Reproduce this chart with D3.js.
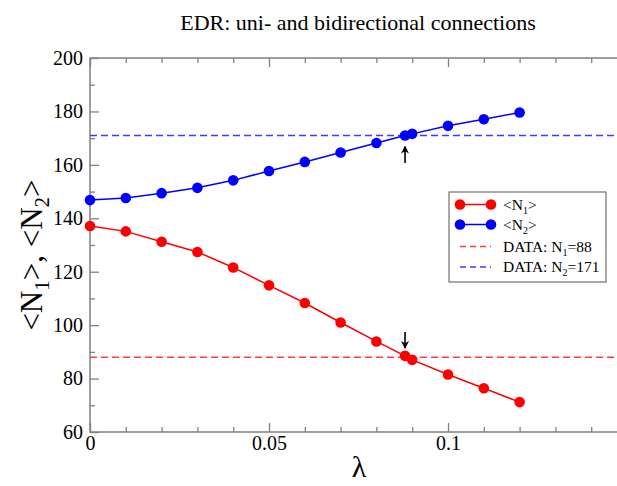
<!DOCTYPE html>
<html><head><meta charset="utf-8">
<script src="https://cdn.jsdelivr.net/npm/d3@7"></script>
<style>
body{margin:0;background:#fff;}
svg{display:block;font-family:"Liberation Serif","Times New Roman",serif;}
</style></head>
<body>
<svg id="c" width="617" height="486"></svg>
<script>
const lambda = [0,0.01,0.02,0.03,0.04,0.05,0.06,0.07,0.08,0.088,0.09,0.1,0.11,0.12];
const n1 = [137.1,135.1,131.2,127.4,121.6,114.9,108.3,101.0,93.9,88.5,87.0,81.5,76.4,71.2];
const n2 = [146.8,147.6,149.4,151.4,154.2,157.7,161.1,164.6,168.2,171.0,171.6,174.6,177.1,179.6];
const dataN1 = 88, dataN2 = 171;
const arrowLambda = 0.088;
const arrowN2 = [160.7, 166.9];
const arrowN1 = [97.4, 91.4];
const xMajor = [0, 0.05, 0.1];
const xMinor = [0.01,0.02,0.03,0.04,0.06,0.07,0.08,0.09,0.11,0.12,0.13,0.14];
const xLabels = ["0","0.05","0.1"];
const yMajor = [60,80,100,120,140,160,180,200];
const yMinor = [70,90,110,130,150,170,190];

const svg = d3.select("#c");
const L = 90, T = 58, B = 432;
const x = d3.scaleLinear().domain([0,0.16]).range([L, L+0.16*3580]);
const y = d3.scaleLinear().domain([60,200]).range([B,T]);
const R = x(0.16);
const axCol = "#808080";

svg.append("defs").append("marker").attr("id","ah").attr("viewBox","0 0 10 10")
  .attr("refX",9).attr("refY",5).attr("markerWidth",5).attr("markerHeight",5).attr("orient","auto")
  .append("path").attr("d","M0,0L10,5L0,10L3,5Z").attr("fill","#000");

// frame
svg.append("rect").attr("x",L).attr("y",T).attr("width",R-L).attr("height",B-T)
  .attr("fill","none").attr("stroke",axCol).attr("stroke-width",1.5);

function styleAx(g){
  g.select(".domain").remove();
  g.selectAll(".tick line").attr("stroke",axCol).attr("stroke-width",1.3);
  g.selectAll(".tick text").attr("fill","#000").style("font-family","Liberation Serif, serif").style("font-size","20px");
}
// bottom
svg.append("g").attr("transform",`translate(0,${B})`)
  .call(d3.axisBottom(x).tickValues(xMajor).tickSize(-9).tickPadding(4).tickFormat((d,i)=>xLabels[i])).call(styleAx);
svg.append("g").attr("transform",`translate(0,${B})`)
  .call(d3.axisBottom(x).tickValues(xMinor).tickSize(-5).tickFormat("")).call(styleAx);
// top
svg.append("g").attr("transform",`translate(0,${T})`)
  .call(d3.axisTop(x).tickValues(xMajor).tickSize(-9).tickFormat("")).call(styleAx);
svg.append("g").attr("transform",`translate(0,${T})`)
  .call(d3.axisTop(x).tickValues(xMinor).tickSize(-5).tickFormat("")).call(styleAx);
// left
svg.append("g").attr("transform",`translate(${L},0)`)
  .call(d3.axisLeft(y).tickValues(yMajor).tickSize(-9).tickPadding(7).tickFormat(d3.format("d"))).call(styleAx);
svg.append("g").attr("transform",`translate(${L},0)`)
  .call(d3.axisLeft(y).tickValues(yMinor).tickSize(-5).tickFormat("")).call(styleAx);

// dashed reference lines
svg.append("line").attr("x1",x(0)).attr("x2",R).attr("y1",y(dataN1)).attr("y2",y(dataN1))
  .attr("stroke","#ff3b3b").attr("stroke-width",1.6).attr("stroke-dasharray","7,4");
svg.append("line").attr("x1",x(0)).attr("x2",R).attr("y1",y(dataN2)).attr("y2",y(dataN2))
  .attr("stroke","#3b3bff").attr("stroke-width",1.6).attr("stroke-dasharray","7,4");

const line = d3.line();
function series(vals,col){
  const pts = lambda.map((l,i)=>[x(l),y(vals[i])]);
  svg.append("path").attr("d",line(pts)).attr("fill","none").attr("stroke",col).attr("stroke-width",1.5);
  svg.append("g").selectAll("circle").data(pts).join("circle")
    .attr("cx",d=>d[0]).attr("cy",d=>d[1]).attr("r",5.3).attr("fill",col);
}
series(n1,"#ff0000");
series(n2,"#0000ff");

// arrows
svg.append("line").attr("x1",x(arrowLambda)).attr("x2",x(arrowLambda))
  .attr("y1",y(arrowN2[0])).attr("y2",y(arrowN2[1])).attr("stroke","#000").attr("stroke-width",1.6).attr("marker-end","url(#ah)");
svg.append("line").attr("x1",x(arrowLambda)).attr("x2",x(arrowLambda))
  .attr("y1",y(arrowN1[0])).attr("y2",y(arrowN1[1])).attr("stroke","#000").attr("stroke-width",1.6).attr("marker-end","url(#ah)");

// title
svg.append("text").attr("x",358).attr("y",30).attr("text-anchor","middle")
  .style("font-size","22px").text("EDR: uni- and bidirectional connections");

// axis labels
svg.append("text").attr("x",359).attr("y",477).attr("text-anchor","middle")
  .style("font-size","30px").text("λ");
const yl = svg.append("text").attr("transform","translate(42,255) rotate(-90)").attr("text-anchor","middle")
  .style("font-size","31px");
yl.append("tspan").text("<N");
yl.append("tspan").attr("dy",7).style("font-size","21px").text("1");
yl.append("tspan").attr("dy",-7).text(">, <N");
yl.append("tspan").attr("dy",7).style("font-size","21px").text("2");
yl.append("tspan").attr("dy",-7).text(">");

// legend
const lg = svg.append("g");
lg.append("rect").attr("x",449).attr("y",192).attr("width",157).attr("height",90)
  .attr("fill","#fff").attr("stroke","#555").attr("stroke-width",1);
const items = [
  {col:"#ff0000",dash:false,t:["<N","1",">"]},
  {col:"#0000ff",dash:false,t:["<N","2",">"]},
  {col:"#ff3b3b",dash:true,t:["DATA: N","1","=88"]},
  {col:"#3b3bff",dash:true,t:["DATA: N","2","=171"]}
];
const rowY = [204.5,224.5,246.5,267];
items.forEach((it,i)=>{
  const yy = rowY[i];
  lg.append("line").attr("x1",460).attr("x2",491).attr("y1",yy).attr("y2",yy)
    .attr("stroke",it.col).attr("stroke-width",1.5).attr("stroke-dasharray",it.dash?"6,4":null);
  if(!it.dash){
    lg.append("circle").attr("cx",460).attr("cy",yy).attr("r",5.3).attr("fill",it.col);
    lg.append("circle").attr("cx",491).attr("cy",yy).attr("r",5.3).attr("fill",it.col);
  }
  const tx = lg.append("text").attr("x",503).attr("y",yy+5).style("font-size","15.5px");
  tx.append("tspan").text(it.t[0]);
  tx.append("tspan").attr("dy",4).style("font-size","10px").text(it.t[1]);
  tx.append("tspan").attr("dy",-4).text(it.t[2]);
});
</script>
</body></html>
